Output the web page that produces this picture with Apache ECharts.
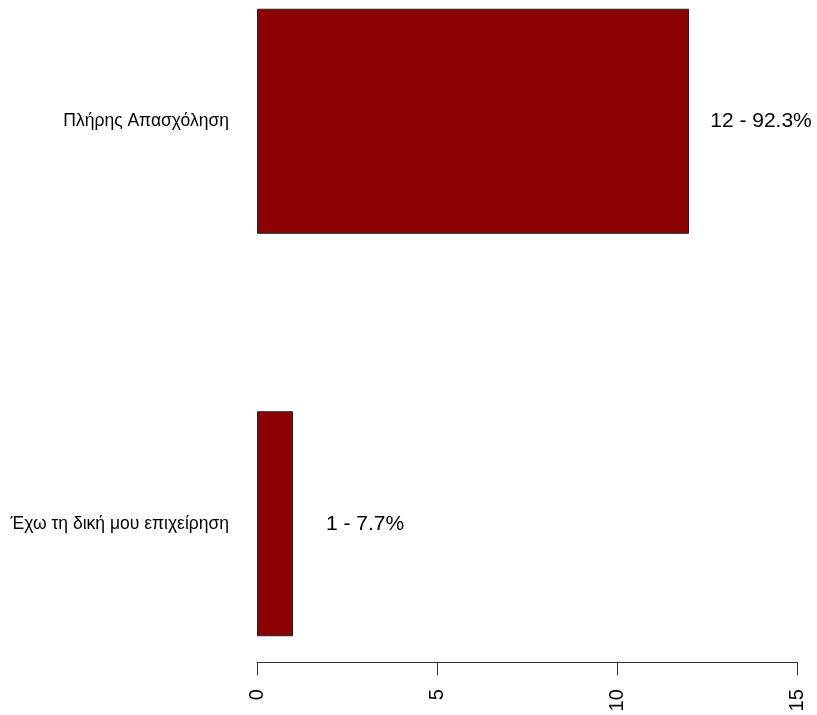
<!DOCTYPE html>
<html>
<head>
<meta charset="utf-8">
<script src="https://cdn.jsdelivr.net/npm/echarts@6/dist/echarts.min.js"></script>
<style>html,body{margin:0;padding:0;background:#fff}#c{width:817px;height:715px}</style>
</head>
<body>
<div id="c"></div>
<script>
var categories = ["Έχω τη δική μου επιχείρηση", "Πλήρης Απασχόληση"];
var counts = [1, 12];
var percents = [7.7, 92.3];
var xTicks = [0, 5, 10, 15];

var chart = echarts.init(document.getElementById('c'), null, {renderer: 'canvas'});
chart.setOption({
  animation: false,
  backgroundColor: '#ffffff',
  grid: {left: 257, right: 20, top: 121.25, bottom: 191.25, containLabel: false},
  xAxis: {
    type: 'value',
    min: xTicks[0], max: xTicks[xTicks.length - 1], interval: 5,
    position: 'bottom',
    offset: 138.5,
    axisLine: {show: true, lineStyle: {color: '#333', width: 1}},
    axisTick: {show: true, length: 13, lineStyle: {color: '#333', width: 1}},
    splitLine: {show: false},
    axisLabel: {rotate: 90, margin: 27, fontSize: 20, color: '#000', fontFamily: 'Liberation Sans, Arial, sans-serif'}
  },
  yAxis: {
    type: 'category',
    data: categories,
    boundaryGap: false,
    axisLine: {show: false},
    axisTick: {show: false},
    splitLine: {show: false},
    axisLabel: {margin: 28, fontSize: 17.5, color: '#000', fontFamily: 'Liberation Sans, Arial, sans-serif'}
  },
  series: [{
    type: 'bar',
    data: counts,
    barWidth: 225,
    clip: false,
    itemStyle: {color: '#8B0000', borderColor: '#222', borderWidth: 1},
    label: {
      show: true, position: 'right', distance: 72, align: 'center',
      fontSize: 21, color: '#000', fontFamily: 'Liberation Sans, Arial, sans-serif',
      formatter: function (p) { return counts[p.dataIndex] + ' - ' + percents[p.dataIndex] + '%'; }
    }
  }]
});
</script>
</body>
</html>
